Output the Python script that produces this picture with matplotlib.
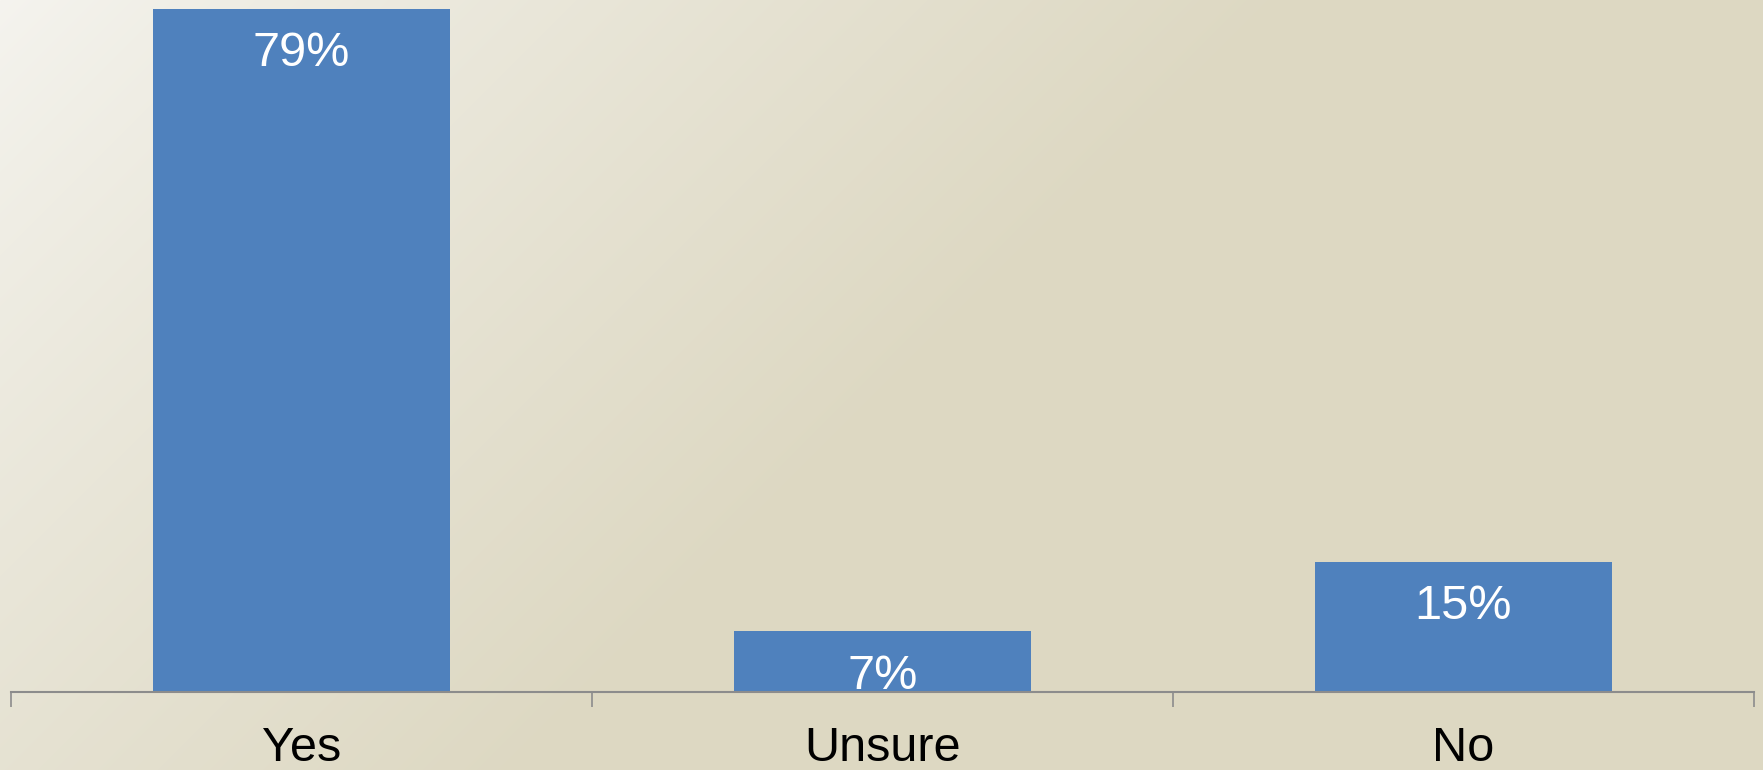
import numpy as np
import matplotlib
matplotlib.use("Agg")
import matplotlib.pyplot as plt
from matplotlib.ticker import FixedLocator

categories = ["Yes", "Unsure", "No"]
values = [79, 7, 15]
value_labels = ["79%", "7%", "15%"]

W, H = 1763, 770
fig = plt.figure(figsize=(W / 100, H / 100), dpi=100)

# background gradient
bg = fig.add_axes([0, 0, 1, 1])
yy, xx = np.mgrid[0:H, 0:W]
t = np.clip((xx + yy) / 1300.0, 0, 1) ** 0.85
c0 = np.array([245, 244, 239]) / 255.0
c1 = np.array([221, 216, 194]) / 255.0
img = c0[None, None, :] * (1 - t[..., None]) + c1[None, None, :] * t[..., None]
bg.imshow(img, aspect="auto", extent=[0, 1, 0, 1], origin="upper")
bg.set_axis_off()

ax = fig.add_axes([11 / W, (H - 691.5) / H, 1743 / W, 691.5 / H])
ax.set_facecolor("none")
x = np.arange(len(categories))
bars = ax.bar(x, values, width=0.51, color="#4F81BD", zorder=2)
ax.set_xlim(-0.5, len(categories) - 0.5)
ax.set_ylim(0, 80)

for xi, v, lab in zip(x, values, value_labels):
    ax.annotate(lab, (xi, v), xytext=(0, -32.5), textcoords="offset points",
                ha="center", va="center", color="white", fontsize=35,
                family=["Liberation Sans", "DejaVu Sans"], zorder=3)

for s in ["top", "right", "left"]:
    ax.spines[s].set_visible(False)
ax.spines["bottom"].set_color("#8C8C8C")
ax.spines["bottom"].set_linewidth(1.5)
ax.set_yticks([])
ax.xaxis.set_major_locator(FixedLocator(np.arange(-0.5, len(categories), 1.0)))
ax.xaxis.set_minor_locator(FixedLocator(x))
ax.tick_params(axis="x", which="major", length=10.5, width=1.2, color="#8C8C8C", labelbottom=False)
ax.tick_params(axis="x", which="minor", length=0, pad=24.5, labelsize=35)
ax.set_xticks(x, minor=True)
ax.set_xticklabels(categories, minor=True, family=["Liberation Sans", "DejaVu Sans"], color="black")

fig.savefig("out.png", dpi=100)
